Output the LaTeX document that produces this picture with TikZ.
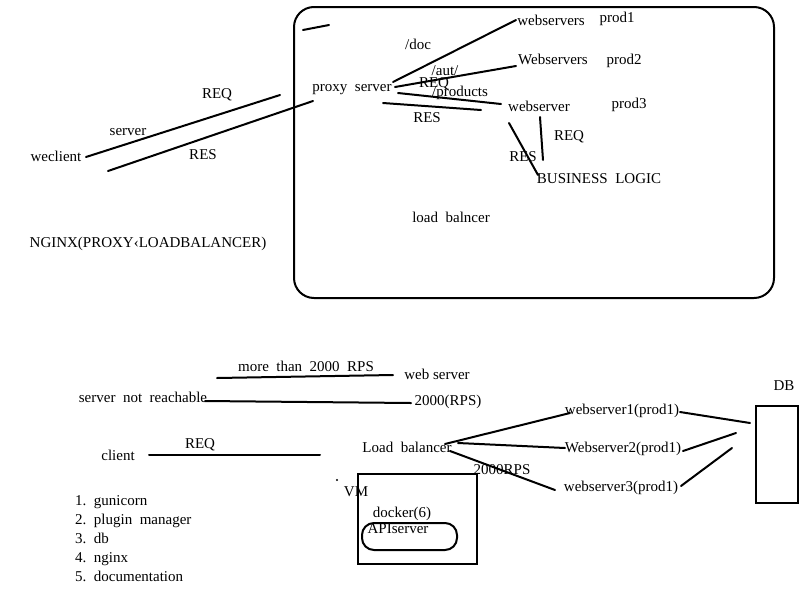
\documentclass[tikz,border=0pt]{standalone}
\usepackage{fontspec}
\setmainfont{Liberation Serif}
\usepackage{tikz}

\begin{document}
\begin{tikzpicture}[x=1pt, y=-1pt,
	stroke/.style={line width=2pt, line cap=round},
	lbl/.style={inner sep=0pt, font=\fontsize{15}{17}\selectfont}]
			\useasboundingbox (0,0) rectangle (800,600);
			% top part: nginx as proxy and load balancer
			\draw[line width=2pt, rounded corners=20pt] (294,7) rectangle (774,298);
			\draw[stroke] (303,30) -- (329,25);
			\node[lbl] (weclient) at (56,156) {weclient};
			\node[lbl] (srvlbl) at (128,132) {server};
			\node[lbl] (reqtop) at (217,95) {REQ};
			\node[lbl] (restop) at (203,155) {RES};
			\node[lbl] (nginx) at (148,244) {NGINX(PROXY‹LOADBALANCER)};
			\node[lbl] (proxy) at (352,90) {proxy\ \ server};
			\node[lbl] (doc) at (418,44) {/doc};
			\node[lbl] (aut) at (445,71) {/aut/};
			\node[lbl] (reqin) at (434,84) {REQ};
			\node[lbl] (products) at (460,93) {/products};
			\node[lbl] (resin) at (427,118) {RES};
			\node[lbl] (webA) at (551,20) {webservers};
			\node[lbl] (prodA) at (617,19) {prod1};
			\node[lbl] (webB) at (553,59) {Webservers};
			\node[lbl] (prodB) at (624,61) {prod2};
			\node[lbl] (webC) at (539,106) {webserver};
			\node[lbl] (prodC) at (629,105) {prod3};
			\node[lbl] (reqbl) at (569,137) {REQ};
			\node[lbl] (resbl) at (523,157) {RES};
			\node[lbl] (logic) at (599,179) {BUSINESS\ \ LOGIC};
			\node[lbl] (lbin) at (451,217) {load\ \ balncer};
			\coordinate (c1) at (86,157);
			\coordinate (c2) at (280,95);
			\coordinate (c3) at (108,171);
			\coordinate (c4) at (313,101);
			\coordinate (p1) at (393,82);
			\coordinate (p2) at (395,87);
			\coordinate (p3) at (398,93);
			\coordinate (p4) at (383,103);
			\coordinate (w1) at (516,20);
			\coordinate (w2) at (516,66);
			\coordinate (w3) at (501,104);
			\coordinate (r1) at (481,110);
			\coordinate (b1) at (540,117);
			\coordinate (b2) at (543,160);
			\coordinate (b3) at (509,123);
			\coordinate (b4) at (538,175);
			\draw[stroke] (c1) -- (c2);
			\draw[stroke] (c3) -- (c4);
			\draw[stroke] (p1) -- (w1);
			\draw[stroke] (p2) -- (w2);
			\draw[stroke] (p3) -- (w3);
			\draw[stroke] (p4) -- (r1);
			\draw[stroke] (b1) -- (b2);
			\draw[stroke] (b3) -- (b4);
			% bottom part: load balancer and webservers
			\node[lbl] (morethan) at (306,366) {more\ \ than\ \ 2000\ \ RPS};
			\node[lbl] (websrv) at (437,374) {web server};
			\node[lbl] (notreach) at (143,397) {server\ \ not\ \ reachable};
			\node[lbl] (rps) at (448,402) {2000(RPS)};
			\node[lbl] (client) at (118,455) {client};
			\node[lbl] (reqlow) at (200,445) {REQ};
			\node[lbl] (lb) at (407,447) {Load\ \ balancer};
			\node[lbl] (rpslow) at (502,470) {2000RPS};
			\node[lbl] (wsa) at (622,411) {webserver1(prod1)};
			\node[lbl] (wsb) at (623,449) {Webserver2(prod1)};
			\node[lbl] (wsc) at (621,488) {webserver3(prod1)};
			\node[lbl] (dblbl) at (784,386) {DB};
			\node[lbl] (vm) at (356,492) {VM};
			\node[lbl] (docker) at (402,514) {docker(6)};
			\node[lbl] (api) at (398,529) {APIserver};
			\fill (337,480) circle (1.2);
			\draw[line width=2pt] (358,474) rectangle (477,564);
			\draw[line width=2pt, rounded corners=12pt] (362,523) rectangle (457,550);
			\draw[line width=2pt] (756,406) rectangle (798,503);
			\coordinate (m1) at (217,378);
			\coordinate (m2) at (393,375);
			\coordinate (n1) at (205,401);
			\coordinate (n2) at (411,403);
			\coordinate (k1) at (149,455);
			\coordinate (k2) at (320,455);
			\coordinate (l1) at (445,444);
			\coordinate (l2) at (458,443);
			\coordinate (l3) at (450,451);
			\coordinate (s1) at (570,413);
			\coordinate (s2) at (565,448);
			\coordinate (s3) at (555,490);
			\coordinate (e1) at (680,412);
			\coordinate (e2) at (683,451);
			\coordinate (e3) at (681,486);
			\coordinate (d1) at (750,423);
			\coordinate (d2) at (736,433);
			\coordinate (d3) at (732,448);
			\draw[stroke] (m1) -- (m2);
			\draw[stroke] (n1) -- (n2);
			\draw[stroke] (k1) -- (k2);
			\draw[stroke] (l1) -- (s1);
			\draw[stroke] (l2) -- (s2);
			\draw[stroke] (l3) -- (s3);
			\draw[stroke] (e1) -- (d1);
			\draw[stroke] (e2) -- (d2);
			\draw[stroke] (e3) -- (d3);
			% list
			\foreach \n/\item [count=\i] in {1/gunicorn, 2/plugin\ \ manager, 3/db, 4/nginx, 5/documentation}
				\node[lbl, anchor=base west] (item\n) at (75,{505+19*(\i-1)}) {\n.\ \ \item};
		\end{tikzpicture}
\end{document}
